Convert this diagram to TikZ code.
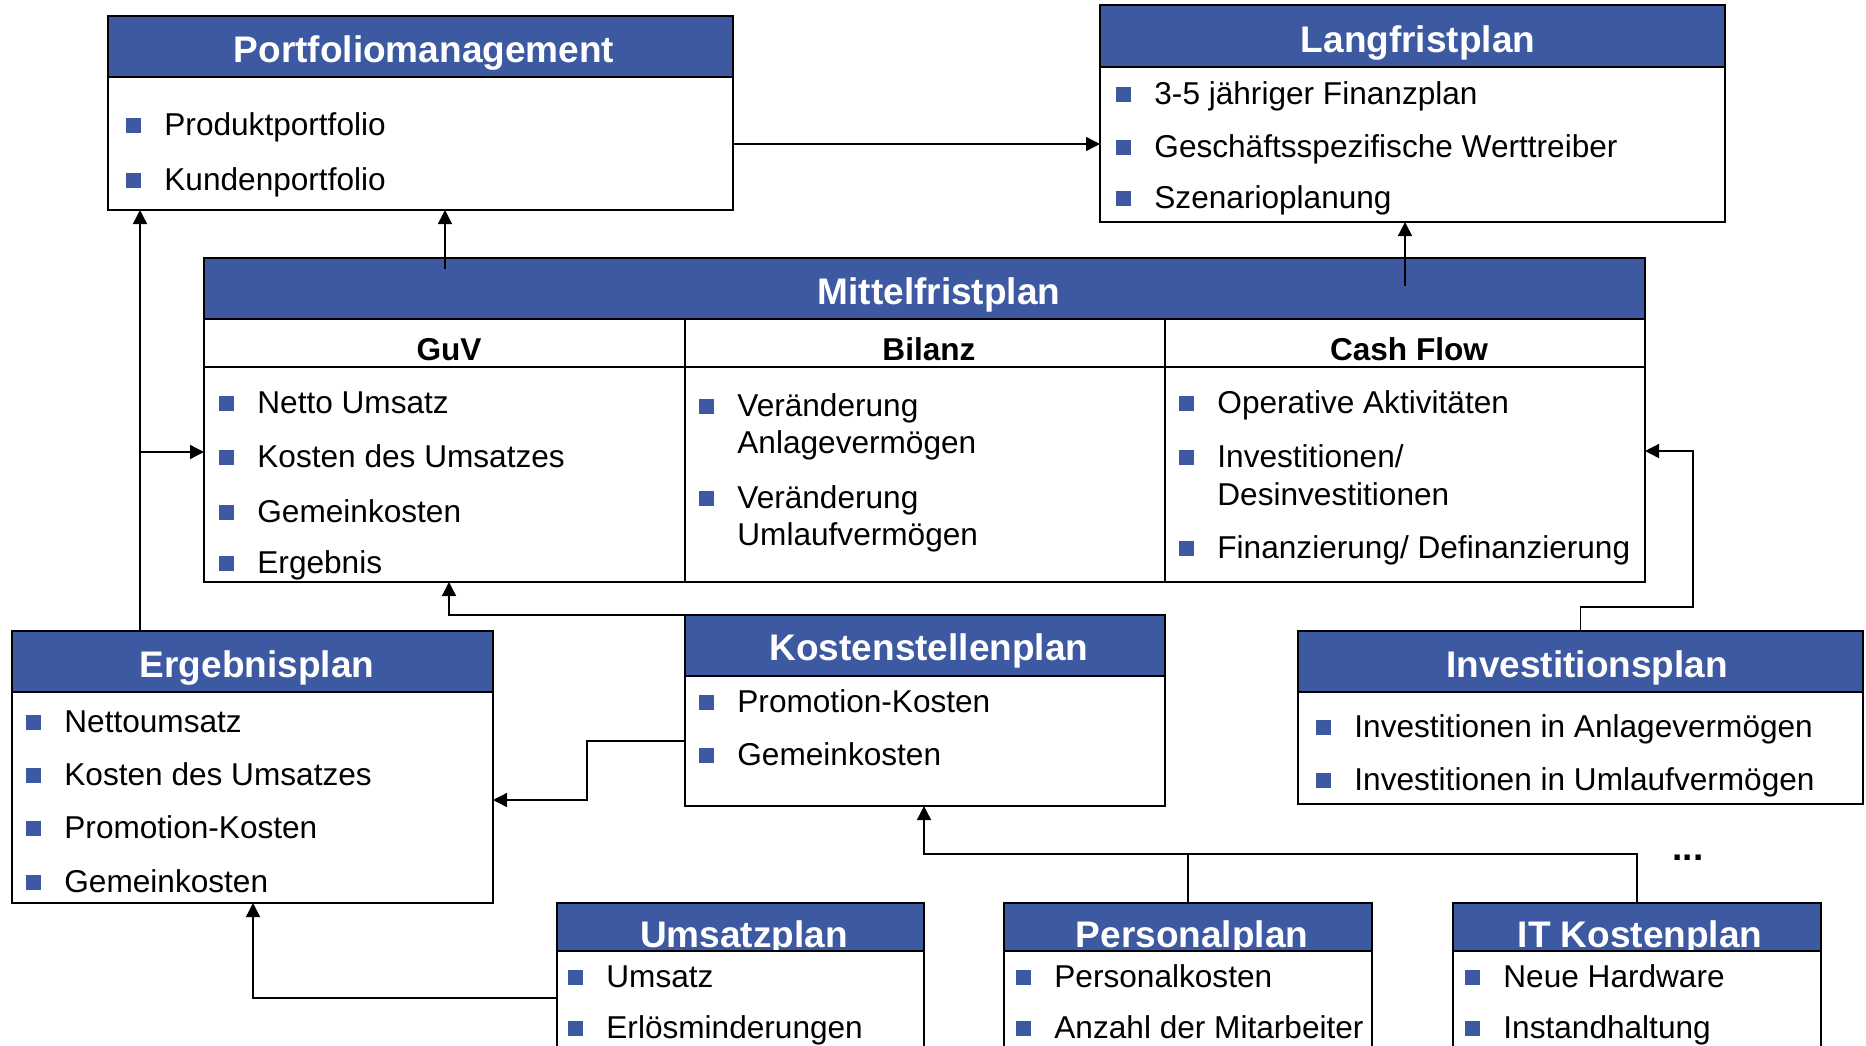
\documentclass[tikz,border=0pt]{standalone}
\usepackage{fontspec}
\setmainfont{Liberation Sans}
\usetikzlibrary{arrows.meta,fit,calc}
\definecolor{hblue}{RGB}{61,89,161}
\newcommand\planbox[9]{%
  \node[hdr, fit={(#2,#3) (#4,#6)}] (#1h) {};
  \node[title] (#1t) at (#7,#8) {#9};
  \fill[white] (#2,#6) rectangle (#4,#5);
  \node[box, fit={(#2,#3) (#4,#5)}] (#1) {};
  \draw[sepline] (#1h.south west) -- (#1h.south east);
}
\newcommand\bul[4]{%
  \node[itm] (#1) at (#2,#3) {#4};
  \fill[hblue] ($(#1.base west)+(-38,-17)$) rectangle ++(15,15);
}
\begin{document}
\begin{tikzpicture}[x=0.5pt,y=-0.5pt,
  hdr/.style={fill=hblue, inner sep=0, outer sep=0, draw=none},
  box/.style={draw=black, line width=1.1pt, inner sep=0, outer sep=0},
  sepline/.style={line width=1.4pt},
  thinsep/.style={line width=0.9pt},
  title/.style={text=white, font=\bfseries\fontsize{18.5}{22}\selectfont, inner sep=0, anchor=base},
  sub/.style={font=\bfseries\fontsize{15.8}{19}\selectfont, inner sep=0, anchor=base},
  itm/.style={font=\fontsize{15.8}{19}\selectfont, inner sep=0, anchor=base west},
  arr/.style={line width=0.7pt, -{Triangle[length=7pt,width=7pt]}},
  con/.style={line width=0.7pt}]
\fill[white] (0,0) rectangle (1866,1045);
\clip (0,0) rectangle (1866,1045);

% Portfolio
\planbox{pf}{108}{16}{733}{210}{77}{424}{62}{Portfoliomanagement}
\bul{pf1}{164}{135}{Produktportfolio}
\bul{pf2}{164}{190}{Kundenportfolio}

% Langfrist
\planbox{lf}{1100}{5}{1725}{222}{67}{1418}{52}{Langfristplan}
\bul{lf1}{1154}{104}{3-5 jähriger Finanzplan}
\bul{lf2}{1154}{157}{Geschäftsspezifische Werttreiber}
\bul{lf3}{1154}{208}{Szenarioplanung}

% Mittelfrist
\planbox{mf}{204}{258}{1645}{582}{319}{939}{304}{Mittelfristplan}
\draw[thinsep] (204,367) -- (1645,367);
\draw[thinsep] (685,319) -- (685,582);
\draw[thinsep] (1165,319) -- (1165,582);
\node[sub] (guv) at (449,360) {GuV};
\node[sub] (bil) at (929,360) {Bilanz};
\node[sub] (cfl) at (1409,360) {Cash Flow};
\bul{g1}{257}{413}{Netto Umsatz}
\bul{g2}{257}{467}{Kosten des Umsatzes}
\bul{g3}{257}{522}{Gemeinkosten}
\bul{g4}{257}{573}{Ergebnis}
\bul{b1}{737}{416}{Veränderung}
\node[itm] (b1b) at (737,453) {Anlagevermögen};
\bul{b2}{737}{508}{Veränderung}
\node[itm] (b2b) at (737,545) {Umlaufvermögen};
\bul{c1i}{1217}{413}{Operative Aktivitäten}
\bul{c2i}{1217}{467}{Investitionen/}
\node[itm] (c2b) at (1217,505) {Desinvestitionen};
\bul{c3i}{1217}{558}{Finanzierung/ Definanzierung}

% Kostenstellenplan
\planbox{kp}{685}{615}{1165}{806}{676}{929}{660}{Kostenstellenplan}
\bul{k1}{737}{712}{Promotion-Kosten}
\bul{k2}{737}{765}{Gemeinkosten}

% Ergebnisplan
\planbox{ep}{12}{631}{493}{903}{692}{257}{677}{Ergebnisplan}
\bul{e1}{64}{732}{Nettoumsatz}
\bul{e2}{64}{785}{Kosten des Umsatzes}
\bul{e3}{64}{838}{Promotion-Kosten}
\bul{e4}{64}{892}{Gemeinkosten}

% Investitionsplan
\planbox{ip}{1298}{631}{1863}{804}{692}{1587}{677}{Investitionsplan}
\bul{i1}{1354}{737}{Investitionen in Anlagevermögen}
\bul{i2}{1354}{790}{Investitionen in Umlaufvermögen}

% Lower boxes
\planbox{up}{557}{903}{924}{1080}{951}{744}{947}{Umsatzplan}
\bul{u1}{606}{987}{Umsatz}
\bul{u2}{606}{1038}{Erlösminderungen}
\planbox{pp}{1004}{903}{1372}{1080}{951}{1192}{947}{Personalplan}
\bul{p1}{1054}{987}{Personalkosten}
\bul{p2}{1054}{1038}{Anzahl der Mitarbeiter}
\planbox{it}{1453}{903}{1821}{1080}{951}{1640}{947}{IT Kostenplan}
\bul{t1}{1503}{987}{Neue Hardware}
\bul{t2}{1503}{1038}{Instandhaltung}

\node[sub, font=\bfseries\fontsize{18.5}{22}\selectfont] (dots) at (1688,860) {...};

% connectors
\coordinate (q1) at ($(pf.north east)+(0,128)$);
\draw[arr] (q1) -- (q1 -| lf.west);
\coordinate (q2) at ($(mf.north west)+(241,11)$);
\draw[arr] (q2) -- (q2 |- pf.south);
\coordinate (q3) at ($(mf.north west)+(1201,28)$);
\draw[arr] (q3) -- (q3 |- lf.south);
\coordinate (q4) at ($(ep.north west)+(128,0)$);
\draw[arr] (q4) -- (q4 |- pf.south);
\coordinate (q5) at ($(mf.north west)+(0,194)$);
\draw[arr] (q5 -| q4) -- (q5);
\draw[arr] (kp.north west) -| ($(mf.south west)+(245,0)$);
\coordinate (q6) at ($(kp.north west)+(0,126)$);
\draw[arr] (q6) -- ++(-98,0) |- ($(ep.north east)+(0,169)$);
\coordinate (q7) at ($(up.north west)+(0,95)$);
\draw[arr] (q7) -| ($(ep.south west)+(241,0)$);
\coordinate (q8) at ($(kp.south)+(-1,48)$);
\draw[arr] (it.north) |- (q8) -- (q8 |- kp.south);
\draw[con] (pp.north) -- (pp.north |- q8);
\coordinate (q9) at ($(mf.north east)+(0,193)$);
\draw[arr] (ip.north) -- ++(0,-24) -| ($(q9)+(48,0)$) -- (q9);
\end{tikzpicture}
\end{document}
